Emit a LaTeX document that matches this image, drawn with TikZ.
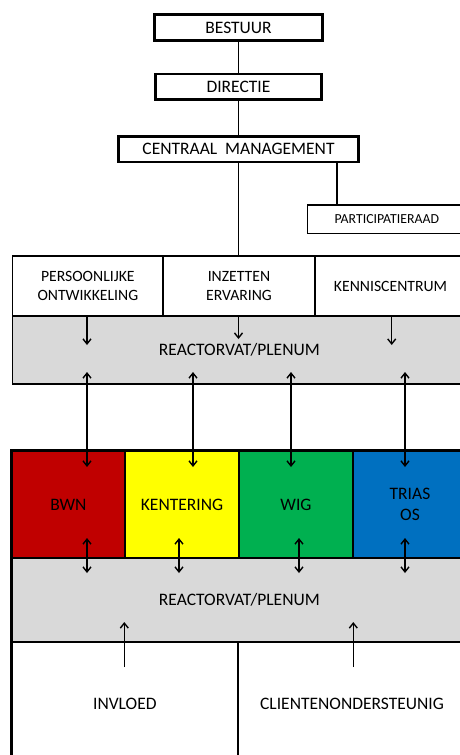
\documentclass[tikz,border=0pt]{standalone}
\usepackage{fontspec}
\setmainfont{Carlito}
\usetikzlibrary{arrows.meta}
\definecolor{cred}{HTML}{C00000}
\definecolor{cyel}{HTML}{FFFF00}
\definecolor{cgrn}{HTML}{00B050}
\definecolor{cblu}{HTML}{0070C0}
\definecolor{cgry}{HTML}{D9D9D9}
\begin{document}
\begin{tikzpicture}[x=1pt,y=-1pt,
  topbox/.style={draw, line width=2.6pt, fill=white, inner sep=0pt, font=\fontsize{17.5}{20}\selectfont},
  cell/.style={draw, line width=1.2pt, inner sep=0pt, align=center, font=\fontsize{17.5}{21}\selectfont},
  rowcell/.style={cell, font=\fontsize{15.7}{19}\selectfont},
  conn/.style={line width=1.4pt},
  arr/.style={line width=1.4pt, -{Straight Barb[length=5pt,width=8pt]}},
  darr/.style={line width=1.4pt, {Straight Barb[length=5pt,width=8pt]}-{Straight Barb[length=5pt,width=8pt]}}]
\useasboundingbox (0,0) rectangle (460,755);
\clip (0,0) rectangle (460,755);
\fill[white] (0,0) rectangle (460,755);

% top hierarchy
\node[topbox, minimum width=168pt, minimum height=26pt] (bestuur) at (238.5,27.5) {BESTUUR};
\node[topbox, minimum width=166pt, minimum height=25.7pt] (directie) at (238.5,86.8) {DIRECTIE};
\node[topbox, minimum width=240pt, minimum height=25.5pt] (cm) at (238.5,149.2) {CENTRAAL~~MANAGEMENT};
\node[cell, fill=white, minimum width=158.3pt, minimum height=28.3pt, font=\fontsize{13.8}{16}\selectfont] (part) at (386.8,219.2) {PARTICIPATIERAAD};

% upper block
\node[rowcell, minimum width=150.3pt, minimum height=60pt] (p1) at (87.85,286) {PERSOONLIJKE\\ONTWIKKELING};
\node[rowcell, minimum width=152pt, minimum height=60pt] (p2) at (239,286) {INZETTEN\\ERVARING};
\node[rowcell, minimum width=151pt, minimum height=60pt] (p3) at (390.5,286) {KENNISCENTRUM};
\node[cell, fill=cgry, minimum width=453.3pt, minimum height=68pt] (g1) at (239.35,350) {REACTORVAT/PLENUM};

% lower block
\node[cell, fill=cred, minimum width=113.3pt, minimum height=106.5pt] (bwn) at (68.35,504.75) {BWN};
\node[cell, fill=cyel, minimum width=114pt, minimum height=106.5pt] (kent) at (182,504.75) {KENTERING};
\node[cell, fill=cgrn, minimum width=114pt, minimum height=106.5pt] (wig) at (296,504.75) {WIG};
\node[cell, fill=cblu, minimum width=114pt, minimum height=106.5pt] (trias) at (410,504.75) {TRIAS\\OS};
\node[cell, fill=cgry, minimum width=455.3pt, minimum height=84pt] (g2) at (239.35,600) {REACTORVAT/PLENUM};
\node[cell, minimum width=226.3pt, minimum height=124pt] (inv) at (124.85,704) {INVLOED};
\node[cell, minimum width=228pt, minimum height=124pt] (cli) at (352,704) {CLIENTENONDERSTEUNIG};
\draw[line width=3pt, line cap=rect] (inv.south west) -- (bwn.north west) -- (trias.north east);

% hierarchy connectors
\draw[conn] (bestuur) -- (directie);
\draw[conn] (directie) -- (cm);
\draw[conn] (cm.south) -- (cm.south |- p2.north);
\coordinate (pj) at (337,0);
\draw[conn] (cm.south -| pj) -- (part.north -| pj);

% arrows upper block
\foreach \x/\y/\n in {87/345/a, 238.5/339/b, 391.7/345/c} {
  \coordinate (d\n) at (\x,\y);
  \draw[arr] (p1.south -| d\n) -- (d\n);
}
\foreach \x/\n in {87/a, 193/b, 291/c, 405/d} {
  \coordinate (u\n) at (\x,372);
  \coordinate (v\n) at (\x,467);
  \draw[darr] (u\n) -- (v\n);
}
\foreach \x/\n in {87/a, 179/b, 299/c, 405/d} {
  \coordinate (s\n) at (\x,538);
  \coordinate (t\n) at (\x,573);
  \draw[darr] (s\n) -- (t\n);
}
\foreach \x/\n in {124.3/a, 353.3/b} {
  \coordinate (e\n) at (\x,667);
  \coordinate (f\n) at (\x,622);
  \draw[arr] (e\n) -- (f\n);
}
\end{tikzpicture}
\end{document}
